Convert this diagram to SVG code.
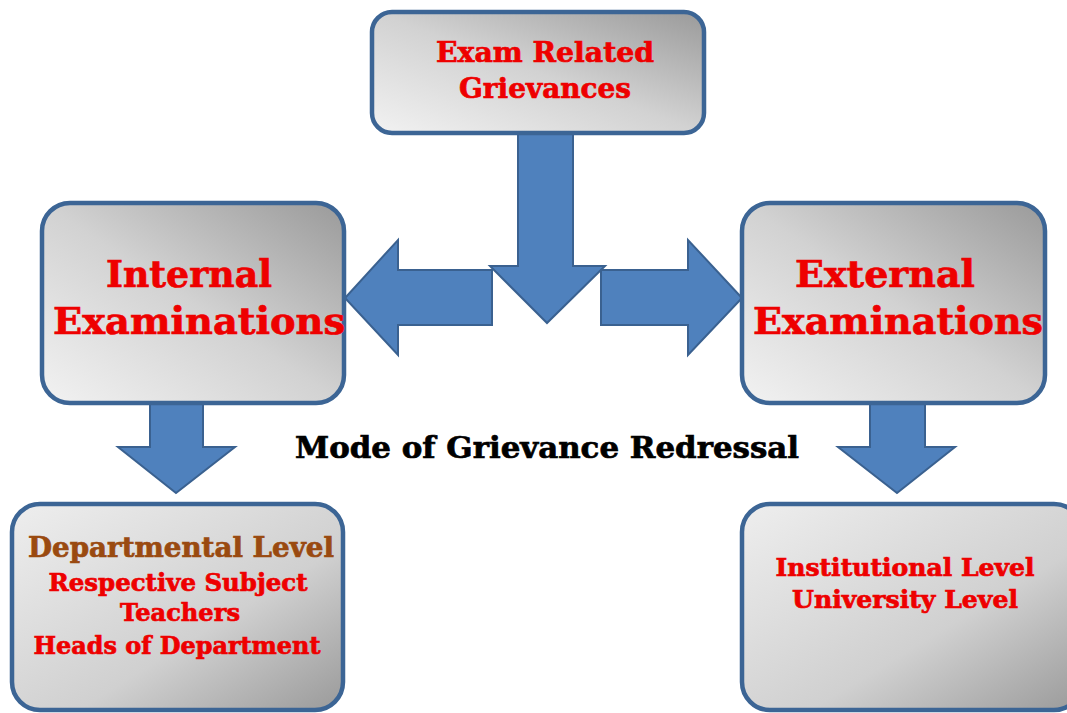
<svg xmlns="http://www.w3.org/2000/svg" width="1067" height="713" viewBox="0 0 1067 713">
<defs>
<linearGradient id="gUp" x1="0" y1="1" x2="1" y2="0">
<stop offset="0" stop-color="#f2f2f2"/><stop offset="0.5" stop-color="#d2d2d2"/><stop offset="1" stop-color="#9a9a9a"/>
</linearGradient>
<linearGradient id="gDown" x1="0" y1="0" x2="1" y2="1">
<stop offset="0" stop-color="#eeeeee"/><stop offset="0.6" stop-color="#d0d0d0"/><stop offset="1" stop-color="#9a9a9a"/>
</linearGradient>
<style>
.box{stroke:#3c6595;stroke-width:4.5}
.arr{fill:#4f81bd;stroke:#3a6190;stroke-width:2;stroke-linejoin:miter}
.t{font-family:"DejaVu Serif","Liberation Serif",serif;font-weight:bold;text-anchor:middle;stroke-width:0.7}
.red{fill:#ee0000;stroke:#ee0000}
.brown{fill:#9a4a10;stroke:#9a4a10}
.blk{fill:#000;stroke:#000}
</style>
</defs>
<rect width="1067" height="713" fill="#fff"/>
<g id="connectors">
<polygon class="arr" points="518,133 573,133 573,266 605,266 547,323 490,266 518,266"/>
<polygon class="arr" points="492,270 398,270 398,240 345,298 398,355 398,325 492,325"/>
<polygon class="arr" points="601,270 688,270 688,240 742,298 688,355 688,325 601,325"/>
<polygon class="arr" points="150,403 203,403 203,447 235,447 176,493 118,447 150,447"/>
<polygon class="arr" points="870,403 925,403 925,447 955,447 897,493 838,447 870,447"/>
</g>
<g id="exam">
<rect class="box" x="372" y="12" width="332" height="121" rx="20" fill="url(#gUp)"/>
<text class="t red" x="545" y="62" font-size="28" textLength="218" lengthAdjust="spacingAndGlyphs">Exam Related</text>
<text class="t red" x="545" y="98" font-size="28" textLength="172" lengthAdjust="spacingAndGlyphs">Grievances</text>
</g>
<g id="internal">
<rect class="box" x="42" y="203" width="302" height="200" rx="28" fill="url(#gUp)"/>
<text class="t red" x="189" y="287" font-size="38" textLength="166" lengthAdjust="spacingAndGlyphs">Internal</text>
<text class="t red" x="199" y="334" font-size="38" textLength="292" lengthAdjust="spacingAndGlyphs">Examinations</text>
</g>
<g id="external">
<rect class="box" x="742" y="203" width="303" height="200" rx="28" fill="url(#gUp)"/>
<text class="t red" x="885" y="287" font-size="38" textLength="180" lengthAdjust="spacingAndGlyphs">External</text>
<text class="t red" x="898" y="334" font-size="38" textLength="290" lengthAdjust="spacingAndGlyphs">Examinations</text>
</g>
<g id="mode">
<text class="t blk" x="547" y="458" font-size="30" textLength="504" lengthAdjust="spacingAndGlyphs">Mode of Grievance Redressal</text>
</g>
<g id="departmental">
<rect class="box" x="12" y="504" width="331" height="206" rx="28" fill="url(#gDown)"/>
<text class="t brown" x="181" y="557" font-size="28" textLength="306" lengthAdjust="spacingAndGlyphs">Departmental Level</text>
<text class="t red" x="178" y="591" font-size="24" textLength="259" lengthAdjust="spacingAndGlyphs">Respective Subject</text>
<text class="t red" x="180" y="621" font-size="24" textLength="120" lengthAdjust="spacingAndGlyphs">Teachers</text>
<text class="t red" x="177" y="654" font-size="24" textLength="287" lengthAdjust="spacingAndGlyphs">Heads of Department</text>
</g>
<g id="institutional">
<rect class="box" x="742" y="504" width="340" height="206" rx="28" fill="url(#gDown)"/>
<text class="t red" x="905" y="576" font-size="24" textLength="259" lengthAdjust="spacingAndGlyphs">Institutional Level</text>
<text class="t red" x="905" y="608" font-size="24" textLength="226" lengthAdjust="spacingAndGlyphs">University Level</text>
</g>
</svg>
